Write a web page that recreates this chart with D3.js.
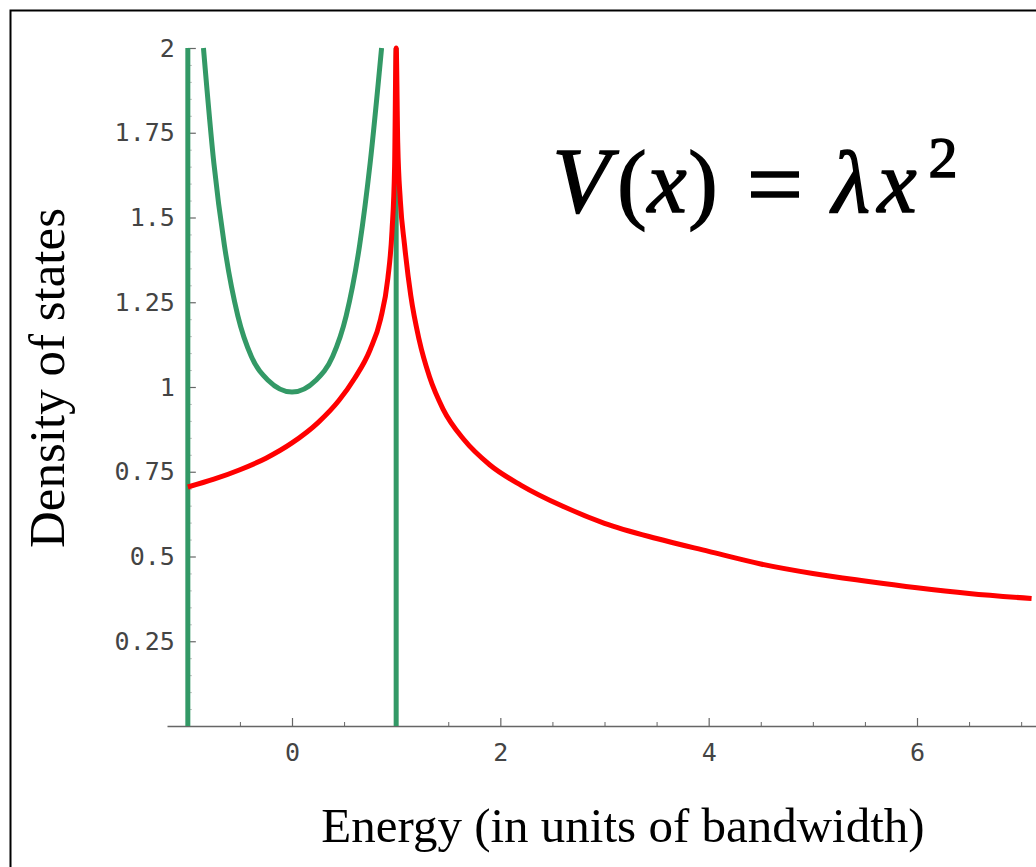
<!DOCTYPE html>
<html>
<head>
<meta charset="utf-8">
<script src="https://d3js.org/d3.v7.min.js"></script>
<style>
body { margin: 0; background: #ffffff; }
</style>
</head>
<body>
<div id="chart"></div>
<script>
// Consts {{{
const width = 1036;
const height = 867;

// red curve
const red_energy = [-1.0, -0.75, -0.5, -0.25, 0.0, 0.25, 0.45, 0.6, 0.75, 0.85, 0.92, 0.96, 0.985, 1.0,
                    1.015, 1.04, 1.08, 1.14, 1.22, 1.32, 1.45, 1.65, 1.9, 2.2, 2.6, 3.0, 3.5, 4.0, 4.5, 5.0, 5.5, 6.0, 6.5, 7.1];
const red_dos = [0.705, 0.728, 0.756, 0.79, 0.835, 0.895, 0.96, 1.025, 1.11, 1.2, 1.32, 1.46, 1.65, 2.0,
                 1.72, 1.55, 1.42, 1.27, 1.14, 1.03, 0.935, 0.845, 0.77, 0.71, 0.648, 0.598, 0.553, 0.515, 0.478, 0.45, 0.428, 0.408, 0.391, 0.376];

// green curve: band edges + U shaped part
const green_edges = [-1, 1];
const green_energy = [-0.85, -0.75, -0.65, -0.52, -0.39, -0.23, 0.0, 0.23, 0.39, 0.52, 0.65, 0.75, 0.86];
const green_dos = [2.0, 1.66, 1.42, 1.21, 1.09, 1.02, 0.985, 1.02, 1.09, 1.21, 1.42, 1.66, 2.0];

// axes
const x_domain = [-1.2, 7.2];
const y_domain = [0, 2];
const x_ticks = [0, 2, 4, 6];
const x_minor_ticks = [-1, -0.5, 0.5, 1, 1.5, 2.5, 3, 3.5, 4.5, 5, 5.5, 6.5, 7];
const y_ticks = [0.25, 0.5, 0.75, 1, 1.25, 1.5, 1.75, 2];
const y_minor_ticks = d3.range(1, 40).map(i => i * 0.05).filter(v => Math.round(v * 100) % 25 != 0);

const x_title = "Energy (in units of bandwidth)";
const y_title = "Density of states";

const red_color = "#ff0000";
const green_color = "#339966";
const axis_color = "#666666";
const tick_font = "'DejaVu Sans Mono', monospace";
const serif_font = "'Liberation Serif', 'Times New Roman', serif";
//}}}

const svg = d3.select("#chart").append("svg")
    .attr("width", width)
    .attr("height", height);

// frame
svg.append("rect")
    .attr("x", 10.5).attr("y", 10.5)
    .attr("width", 1100).attr("height", 1000)
    .attr("fill", "#ffffff")
    .attr("stroke", "#000000")
    .attr("stroke-width", 2);

const x = d3.scaleLinear().domain(x_domain).range([167, 1042]);
const y = d3.scaleLinear().domain(y_domain).range([726, 48]);

// axes {{{
function style_axis(g) {
    g.select(".domain").attr("stroke", axis_color).attr("stroke-width", 1.5);
    g.selectAll(".tick line").attr("stroke", axis_color).attr("stroke-width", 1.2);
    g.selectAll("text")
        .attr("font-family", tick_font)
        .attr("font-size", 25)
        .attr("fill", "#444444");
}

// minor x ticks
svg.append("g")
    .attr("transform", "translate(0," + y(0) + ")")
    .call(d3.axisBottom(x).tickValues(x_minor_ticks).tickSize(-4).tickFormat(""))
    .call(g => g.select(".domain").remove())
    .call(g => g.selectAll(".tick line").attr("stroke", axis_color));

svg.append("g")
    .attr("transform", "translate(0," + y(0) + ")")
    .call(d3.axisBottom(x).tickValues(x_ticks).tickSize(-8).tickSizeOuter(0).tickPadding(17)
        .tickFormat(d => String(d)))
    .call(style_axis);

// minor y ticks
svg.append("g")
    .attr("transform", "translate(" + x(-1) + ",0)")
    .call(d3.axisLeft(y).tickValues(y_minor_ticks).tickSize(-4).tickFormat(""))
    .call(g => g.select(".domain").remove())
    .call(g => g.selectAll(".tick line").attr("stroke", "#bbbbbb"));

svg.append("g")
    .attr("transform", "translate(" + x(-1) + ",0)")
    .call(d3.axisLeft(y).tickValues(y_ticks).tickSize(-8).tickSizeOuter(0).tickPadding(13)
        .tickFormat(d => String(d)))
    .call(style_axis);
//}}}

// curves {{{
const green_pts = green_energy.map((e, i) => [e, green_dos[i]]);
const red_pts = red_energy.map((e, i) => [e, red_dos[i]]);

svg.selectAll("line.edge")
    .data(green_edges)
    .enter()
    .append("line")
    .attr("class", "edge")
    .attr("x1", d => x(d)).attr("x2", d => x(d))
    .attr("y1", y(0)).attr("y2", y(2))
    .attr("stroke", green_color)
    .attr("stroke-width", 5);

svg.append("path")
    .datum(green_pts)
    .attr("fill", "none")
    .attr("stroke", green_color)
    .attr("stroke-width", 5)
    .attr("stroke-linejoin", "round")
    .attr("d", d3.line().x(d => x(d[0])).y(d => y(d[1])).curve(d3.curveMonotoneX));

svg.append("path")
    .datum(red_pts)
    .attr("fill", "none")
    .attr("stroke", red_color)
    .attr("stroke-width", 5)
    .attr("stroke-linejoin", "round")
    .attr("d", d3.line().x(d => x(d[0])).y(d => y(d[1])).curve(d3.curveMonotoneX));
//}}}

// titles {{{
svg.append("text")
    .attr("x", 623).attr("y", 842)
    .attr("text-anchor", "middle")
    .attr("font-family", serif_font)
    .attr("font-size", 49)
    .attr("fill", "#000")
    .text(x_title);

svg.append("text")
    .attr("transform", "translate(64,378) rotate(-90)")
    .attr("text-anchor", "middle")
    .attr("font-family", serif_font)
    .attr("font-size", 51)
    .attr("fill", "#000")
    .text(y_title);

// formula V(x) = λx², one glyph at a time
const formula = [
    {t: "V", cx: 581, italic: true, size: 94, base: 212},
    {t: "(", cx: 632, italic: false, size: 88, base: 212},
    {t: "x", cx: 667, italic: true, size: 88, base: 212},
    {t: ")", cx: 703, italic: false, size: 88, base: 212},
    {t: "=", cx: 775, italic: false, size: 100, base: 218},
    {t: "λ", cx: 851, italic: true, size: 88, base: 212},
    {t: "x", cx: 897, italic: true, size: 88, base: 212},
    {t: "2", cx: 943, italic: false, size: 58, base: 177}
];
svg.append("g")
    .selectAll("text")
    .data(formula)
    .enter()
    .append("text")
    .attr("x", d => d.cx)
    .attr("y", d => d.base)
    .attr("text-anchor", "middle")
    .attr("font-family", serif_font)
    .attr("font-style", d => d.italic ? "italic" : "normal")
    .attr("font-size", d => d.size)
    .attr("fill", "#000")
    .attr("stroke", "#000")
    .attr("stroke-width", 1.5)
    .text(d => d.t);
//}}}
</script>
</body>
</html>
